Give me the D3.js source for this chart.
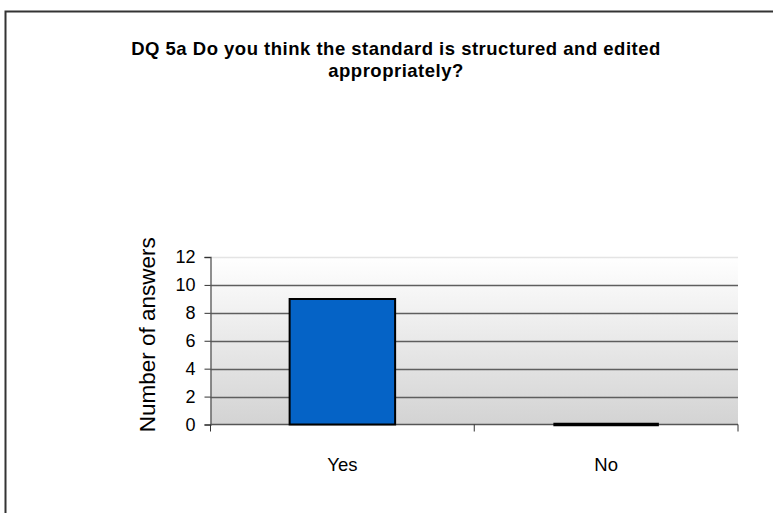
<!DOCTYPE html>
<html><head><meta charset="utf-8">
<script src="https://cdn.jsdelivr.net/npm/d3@7"></script>
<style>body{margin:0;background:#fff;}svg{display:block;font-family:"Liberation Sans",Arial,sans-serif;}</style>
</head><body>
<svg id="c" width="773" height="513"></svg>
<script>
const titleLines = ["DQ 5a Do you think the standard is structured and edited", "appropriately?"];
const categories = ["Yes", "No"];
const values = [9, 0];
const yTicks = [0, 2, 4, 6, 8, 10, 12];
const yLabel = "Number of answers";

const svg = d3.select("#c");
const m = {left: 210.5, right: 738, top: 257, bottom: 424.5};

// outer frame
svg.append("rect").attr("x", 5.5).attr("y", 11.5).attr("width", 820).attr("height", 560)
  .attr("fill", "#fff").attr("stroke", "#333").attr("stroke-width", 2);

// title
svg.append("g").selectAll("text").data(titleLines).join("text")
  .attr("x", 396).attr("y", (d, i) => 55 + i * 22)
  .attr("text-anchor", "middle").attr("font-weight", "bold").attr("font-size", 18.5)
  .attr("letter-spacing", 0.5).attr("fill", "#000").text(d => d);

const x = d3.scaleBand().domain(categories).range([m.left, m.right]).paddingInner(0).paddingOuter(0);
const y = d3.scaleLinear().domain([0, 12]).range([m.bottom, m.top]);

// gradient
const defs = svg.append("defs");
const lg = defs.append("linearGradient").attr("id", "bg").attr("x1", 0).attr("y1", 0).attr("x2", 0).attr("y2", 1);
lg.append("stop").attr("offset", 0).attr("stop-color", "#ffffff");
lg.append("stop").attr("offset", 1).attr("stop-color", "#d3d3d3");
svg.append("rect").attr("x", m.left).attr("y", m.top).attr("width", m.right - m.left).attr("height", m.bottom - m.top)
  .attr("fill", "url(#bg)");

// gridlines
svg.append("g").selectAll("line").data(yTicks.filter(t => t > 0)).join("line")
  .attr("x1", m.left).attr("x2", m.right)
  .attr("y1", d => Math.round(y(d)) + 0.5).attr("y2", d => Math.round(y(d)) + 0.5)
  .attr("stroke", d => d === 12 ? "#e4e4e4" : "#5e5e5e").attr("stroke-width", 1.4);

// x axis line (under bars)
svg.append("line").attr("x1", m.left).attr("x2", m.right).attr("y1", m.bottom).attr("y2", m.bottom)
  .attr("stroke", "#555").attr("stroke-width", 1.3);

// bars as closed paths (so zero-height bars still show their outline)
svg.append("g").selectAll("path").data(values).join("path")
  .attr("d", (d, i) => {
    const x0 = x(categories[i]) + x.bandwidth() * 0.3, x1 = x0 + x.bandwidth() * 0.4;
    const p = d3.path();
    p.moveTo(x0, y(0)); p.lineTo(x0, y(d)); p.lineTo(x1, y(d)); p.lineTo(x1, y(0)); p.closePath();
    return p.toString();
  })
  .attr("fill", "#0563c6").attr("stroke", "#000").attr("stroke-width", d => d === 0 ? 3.5 : 2);

// y axis
const yAxis = d3.axisLeft(y).tickValues(yTicks).tickSize(6).tickPadding(9).tickFormat(d3.format("d"));
const gy = svg.append("g").attr("transform", `translate(${m.left},0)`).call(yAxis);
gy.select(".domain").attr("stroke", "#555").attr("stroke-width", 1.3);
gy.selectAll(".tick line").attr("stroke", "#333");
gy.selectAll(".tick text").attr("font-size", 18).attr("fill", "#000").attr("font-family", "Liberation Sans, Arial, sans-serif");

// x axis ticks and labels
const boundaries = [m.left, ...categories.map(c => x(c) + x.bandwidth())];
const gx = svg.append("g");
gx.selectAll("line.tk").data(boundaries).join("line").attr("class", "tk")
  .attr("x1", d => d).attr("x2", d => d).attr("y1", m.bottom).attr("y2", m.bottom + 7)
  .attr("stroke", "#333");
gx.selectAll("text").data(categories).join("text")
  .attr("x", d => x(d) + x.bandwidth() / 2).attr("y", 471)
  .attr("text-anchor", "middle").attr("font-size", 18.5).attr("fill", "#000").text(d => d);

// y label
svg.append("text").attr("transform", `translate(155,${(m.top + m.bottom) / 2 - 6}) rotate(-90)`)
  .attr("text-anchor", "middle").attr("font-size", 22.5).attr("fill", "#000").text(yLabel);
</script>
</body></html>
